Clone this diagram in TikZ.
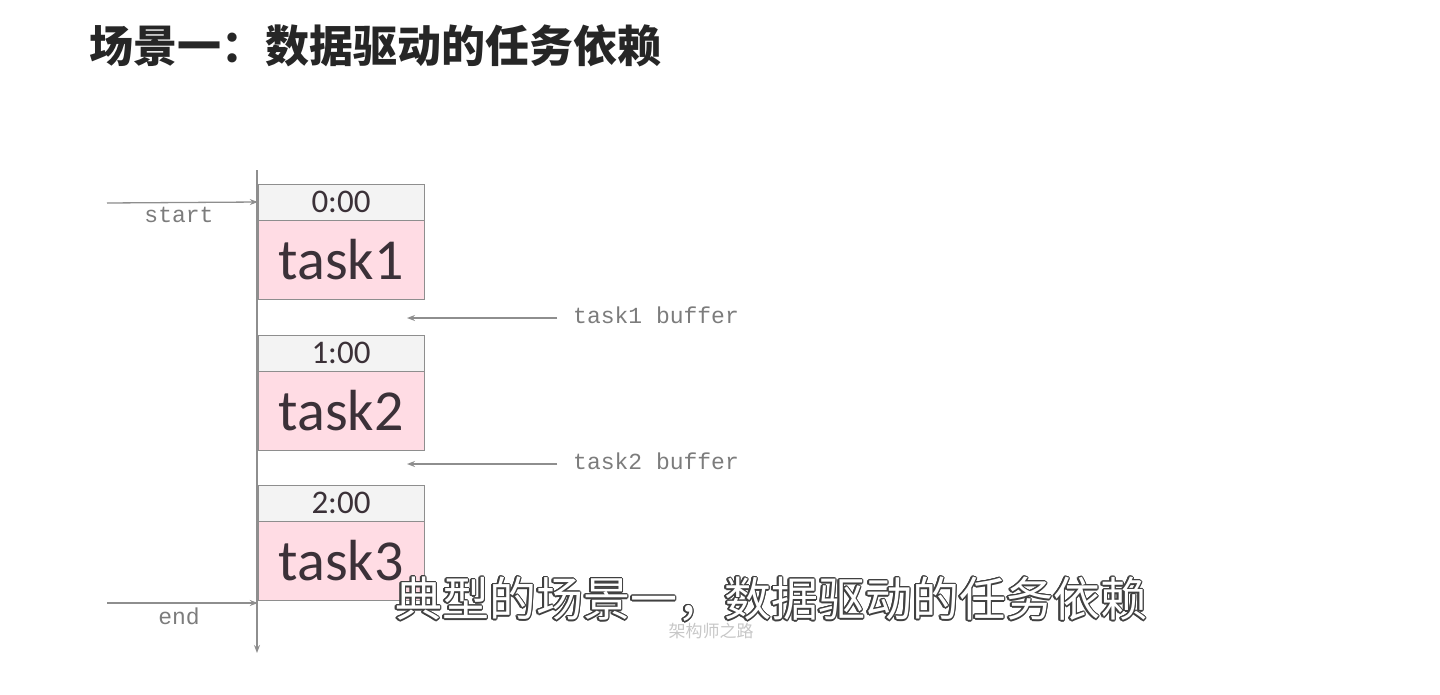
\documentclass[tikz,border=0pt]{standalone}
\usepackage{fontspec}
\setmainfont{Carlito}
\setmonofont{Liberation Mono}
\newfontfamily\cjk{Noto Sans CJK SC}
\usepackage[copies]{contour}
\usetikzlibrary{positioning, arrows.meta}
\definecolor{taskpink}{HTML}{FFDCE4}
\definecolor{hdrgray}{HTML}{F3F3F3}
\definecolor{linegray}{HTML}{8E8E8E}
\definecolor{labelgray}{HTML}{7C7C7C}
\definecolor{textdark}{HTML}{3B3138}
\contourlength{1.4pt}
\begin{document}
\begin{tikzpicture}[x=1pt, y=-1pt, >={Stealth[length=8pt, width=6pt]}]
    \tikzset{timebox/.style = {draw=linegray, fill=hdrgray, minimum width=166pt, minimum height=36pt, inner sep=0pt, font=\fontsize{33}{33}\selectfont, text=textdark}}
    \tikzset{taskbox/.style = {draw=linegray, fill=taskpink, minimum width=166pt, minimum height=79pt, inner sep=0pt, font=\fontsize{58}{58}\selectfont, text=textdark}}
    \tikzset{note/.style = {font=\ttfamily\fontsize{23}{23}\selectfont, text=labelgray, inner sep=0pt}}
    \tikzset{flow/.style = {->, draw=linegray, fill=linegray, line width=1.3pt}}

    \useasboundingbox (0,0) rectangle (1440,694);

    \node[anchor=west, font=\cjk\bfseries\fontsize{44}{44}\selectfont, text=black!85] (title) at (86,46) {场景一：数据驱动的任务依赖};

    \node[timebox] (t0) at (341,202) {0:00};
    \node[taskbox, below=0pt of t0] (task1) {task1};

    \node[timebox] (t1) at (341,353) {1:00};
    \node[taskbox, below=0pt of t1] (task2) {task2};

    \node[timebox] (t2) at (341,503) {2:00};
    \node[taskbox, below=0pt of t2] (task3) {task3};

    \coordinate (axtop) at (257,170);
    \coordinate (axbot) at (257,653);
    \coordinate (startin) at (107,203);
    \coordinate (endin) at (107,603);
    \coordinate (buf1) at (557,318);
    \coordinate (buf1tip) at (407,318);
    \coordinate (buf2) at (557,464);
    \coordinate (buf2tip) at (407,464);

    \draw[flow] (axtop) -- (axbot);
    \draw[flow] (startin) -- (t0.west);
    \draw[flow] (endin) -- (endin -| task3.west);
    \draw[flow] (buf1) -- (buf1tip);
    \draw[flow] (buf2) -- (buf2tip);

    \node[note] (startlbl) at (179,215) {start};
    \node[note] (endlbl) at (179,616) {end};
    \node[note, anchor=west] (buf1lbl) at (573,315) {task1 buffer};
    \node[note, anchor=west] (buf2lbl) at (573,461) {task2 buffer};

    \node[font=\cjk\fontsize{17}{17}\selectfont, text=black!22] (mark) at (711,631) {架构师之路};
    \node[font=\cjk\fontsize{47}{47}\selectfont, text=white] (subtitle) at (771,600) {\contour{black!75}{典型的场景一，数据驱动的任务依赖}};
\end{tikzpicture}
\end{document}
